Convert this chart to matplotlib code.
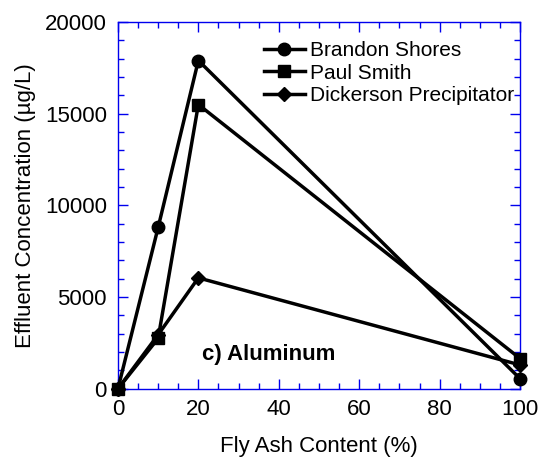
import numpy as np
import matplotlib
matplotlib.use("Agg")
import matplotlib.pyplot as plt
from matplotlib.ticker import MultipleLocator

plt.rcParams['font.family'] = ['Liberation Sans', 'DejaVu Sans']

# Fly ash content (%) and effluent Al concentration (ug/L)
fly_ash = [0, 10, 20, 100]
brandon_shores = [0, 8800, 17900, 550]
paul_smith = [0, 2750, 15500, 1650]
dickerson = [0, 2950, 6050, 1300]

series = [
    ("Brandon Shores", brandon_shores, "o", 9, 3),
    ("Paul Smith", paul_smith, "s", 9, 5),
    ("Dickerson Precipitator", dickerson, "D", 7, 4),
]

fig = plt.figure(figsize=(5.51, 4.58), dpi=100)
ax = fig.add_axes([0.214, 0.151, 0.730, 0.801])

for name, vals, mk, ms, z in series:
    ax.plot(fly_ash, vals, color="black", lw=2.5, marker=mk, ms=ms,
            label=name, clip_on=False, zorder=z)

ax.set_xlim(0, 100)
ax.set_ylim(0, 20000)
ax.xaxis.set_major_locator(MultipleLocator(20))
ax.xaxis.set_minor_locator(MultipleLocator(5))
ax.yaxis.set_major_locator(MultipleLocator(5000))
ax.yaxis.set_minor_locator(MultipleLocator(1000))

blue = "#0000ee"
for sp in ax.spines.values():
    sp.set_color(blue)
    sp.set_linewidth(1.0)
ax.tick_params(which="both", direction="in", top=True, right=True,
               color=blue, labelsize=16)
ax.tick_params(axis="y", pad=8)
ax.tick_params(axis="x", pad=7)
ax.tick_params(which="major", length=7, width=1.0)
ax.tick_params(which="minor", length=4, width=1.0)

ax.set_xlabel("Fly Ash Content (%)", fontsize=16, labelpad=12)
ax.set_ylabel("Effluent Concentration (\u00b5g/L)", fontsize=16, labelpad=6)

ax.text(21, 1850, "c) Aluminum", fontsize=16, fontweight="bold",
        va="center", ha="left")

ax.legend(loc="upper left", bbox_to_anchor=(0.362, 0.948), frameon=False,
          fontsize=15, handlelength=2.0, handletextpad=0.25,
          labelspacing=0.17, borderaxespad=0, borderpad=0)

fig.savefig("out.png", dpi=100)
